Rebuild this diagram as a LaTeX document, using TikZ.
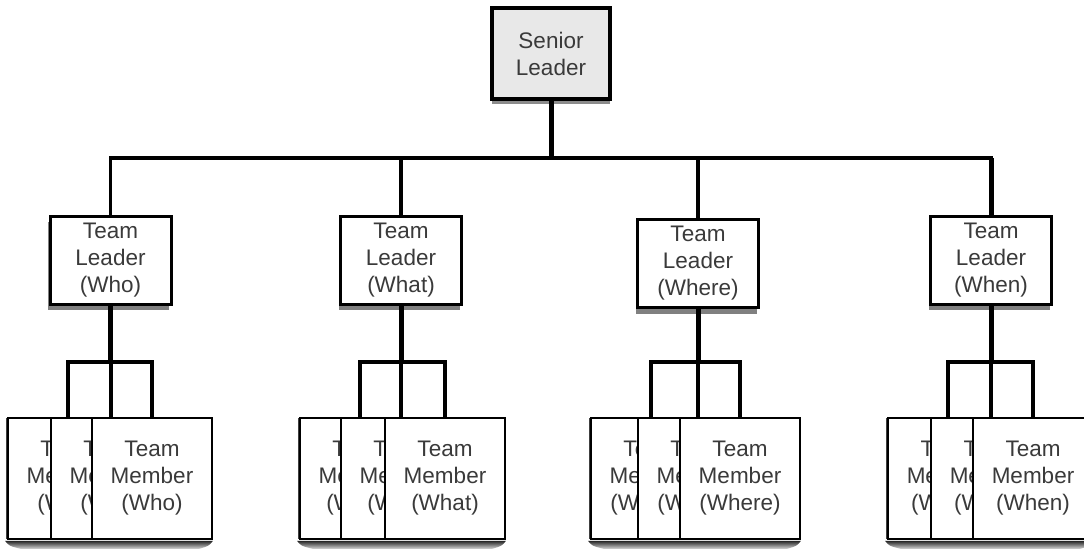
\documentclass[tikz,border=0pt]{standalone}
\usepackage{fontspec}
\setmainfont{Liberation Sans}
\usetikzlibrary{shadows}
\definecolor{txt}{HTML}{3A3A3A}
\definecolor{srfill}{HTML}{E8E8E8}
\begin{document}
\begin{tikzpicture}[x=1pt,y=-1pt,
  lbl/.style={font=\fontsize{22.5}{27}\selectfont, text=txt, align=center, inner sep=0pt},
  srbox/.style={lbl, draw=black, line width=4pt, fill=srfill, minimum width=118pt, minimum height=91pt,
     drop shadow={shadow xshift=0pt, shadow yshift=-5pt, fill=black!45, opacity=1}},
  ldbox/.style={lbl, draw=black, line width=3pt, fill=white, minimum width=121pt, minimum height=88pt,
     drop shadow={shadow xshift=-2pt, shadow yshift=-6pt, fill=black!50, opacity=1}},
  mbbox/.style={lbl, draw=black, line width=1.8pt, fill=white, minimum width=120pt, minimum height=121pt},
  mbfirst/.style={mbbox, drop shadow={shadow xshift=-2.5pt, shadow yshift=0pt, fill=black!75, opacity=1}},
  conn/.style={draw=black, line width=3.4pt},
  heavy/.style={draw=black, line width=5pt},
  grpshadow/.style={top color=black!85, bottom color=black!15}
]
\path[use as bounding box] (0,0) rectangle (1084,552);
\clip (0,0) rectangle (1084,552);
\fill[white] (0,0) rectangle (1084,552);

\coordinate (bar) at (0,158);
\coordinate (brk) at (0,362);

% senior leader
\node[srbox] (sr) at (551,53.5) {Senior\\Leader};

% team leaders
\node[ldbox] (l1) at (110.5,260) {Team\\Leader\\(Who)};
\node[ldbox] (l2) at (401,260) {Team\\Leader\\(What)};
\node[ldbox] (l3) at (698,263.5) {Team\\Leader\\(Where)};
\node[ldbox] (l4) at (991,260) {Team\\Leader\\(When)};

% team members (Who)
\node[mbfirst] (a1) at (68,478.5) {Team\\Member\\(Who)};
\node[mbbox] (a2) at (111,478.5) {Team\\Member\\(Who)};
\node[mbbox] (a3) at (152,478.5) {Team\\Member\\(Who)};
% team members (What)
\node[mbfirst] (b1) at (360,478.5) {Team\\Member\\(What)};
\node[mbbox] (b2) at (401,478.5) {Team\\Member\\(What)};
\node[mbbox] (b3) at (445,478.5) {Team\\Member\\(What)};
% team members (Where)
\node[mbfirst] (c1) at (651,478.5) {Team\\Member\\(Where)};
\node[mbbox] (c2) at (698,478.5) {Team\\Member\\(Where)};
\node[mbbox] (c3) at (740,478.5) {Team\\Member\\(Where)};
% team members (When)
\node[mbfirst] (d1) at (948,478.5) {Team\\Member\\(When)};
\node[mbbox] (d2) at (991,478.5) {Team\\Member\\(When)};
\node[mbbox] (d3) at (1033,478.5) {Team\\Member\\(When)};

% group shadows
\foreach \f/\l in {a1/a3,b1/b3,c1/c3,d1/d3}{
  \shade[grpshadow] ([xshift=-2pt,yshift=-1pt]\f.south west) -- ([yshift=-1pt]\l.south east)
     .. controls ([shift={(-4,6)}]\l.south east) .. ([shift={(-14,9)}]\l.south east)
     -- ([shift={(14,9)}]\f.south west)
     .. controls ([shift={(2,6)}]\f.south west) .. ([xshift=-2pt,yshift=-1pt]\f.south west) -- cycle;
}

% connectors: senior to leaders
\draw[heavy] (sr.south) -- (sr.south |- bar);
\draw[conn] (l1.north) -- (l1.north |- bar) -- (l4.north |- bar) -- (l4.north);
\draw[conn] (l2.north) -- (l2.north |- bar);
\draw[conn, line width=4pt] (l3.north) -- (l3.north |- bar);
\draw[heavy] (l4.north) -- (l4.north |- bar);

% connectors: leaders to members
\foreach \L/\p/\q/\r in {l1/a1/a2/a3, l2/b1/b2/b3, l3/c1/c2/c3, l4/d1/d2/d3}{
  \draw[heavy] (\L.south) -- (\L.south |- brk);
  \draw[conn] (\p.north) -- (\p.north |- brk) -- (\r.north |- brk) -- (\r.north);
  \draw[conn, line width=4pt] (\q.north) -- (\q.north |- brk);
}
\end{tikzpicture}
\end{document}
